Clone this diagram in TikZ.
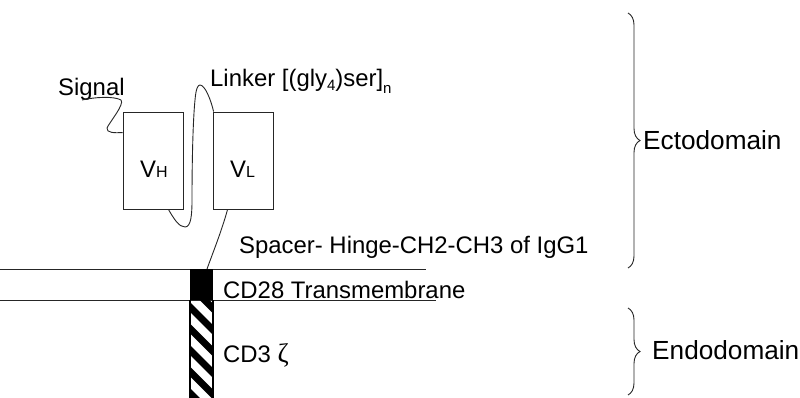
\documentclass[tikz,border=0pt]{standalone}
\usepackage{fontspec}
\setmainfont{Liberation Sans}
\newfontfamily\greekserif{Liberation Serif}
\usetikzlibrary{decorations.pathreplacing,calc}
\newcommand{\mysub}[2]{\raisebox{#1}{\fontsize{15}{17}\selectfont #2}}
\tikzset{
  vbox/.style={draw=black!85, line width=0.9pt, minimum width=60pt, minimum height=97pt, inner sep=0pt},
  lbl/.style={anchor=base west, inner sep=0pt, font=\fontsize{23.9}{28}\selectfont},
  biglbl/.style={anchor=base west, inner sep=0pt, font=\fontsize{26.2}{30}\selectfont},
  wire/.style={line width=0.9pt, black!85},
  bracestyle/.style={line width=0.9pt, black!85, decorate, decoration={brace, amplitude=12pt}}
}
\begin{document}
\begin{tikzpicture}[x=1pt,y=-1pt]
\useasboundingbox (0,0) rectangle (800,397);

% boxes
\node[vbox] (vh) at (153,160.5) {};
\node[vbox] (vl) at (243,160.5) {};
\node[lbl] (vhl) at (140,177) {V\fontsize{16}{18}\selectfont H};
\node[lbl] (vll) at (230,177) {V\fontsize{16}{18}\selectfont L};

% texts
\node[lbl] (signal) at (58,95) {Signal};
\node[lbl] (linker) at (210,86) {Linker [(gly\mysub{-4pt}{4})ser]\mysub{-7pt}{n}};
\node[lbl] (spacer) at (239,253) {Spacer- Hinge-CH2-CH3 of IgG1};
\node[lbl] (cd28) at (223,298) {CD28 Transmembrane};
\node[lbl] (cd3) at (223,362) {CD3 {\greekserif\fontsize{27}{30}\selectfont ζ}};
\node[biglbl] (ecto) at (643,149) {Ectodomain};
\node[biglbl] (endo) at (652,359) {Endodomain};

% membrane
\coordinate (m1a) at (0,269);
\coordinate (m1b) at (426,269);
\coordinate (m2a) at (0,300);
\coordinate (m2b) at (436,300);
\draw[wire] (m1a) -- (m1b);
\draw[wire] (m2a) -- (m2b);

% transmembrane (black) and CD3 zeta (hatched)
\fill[black] (190,269) rectangle (213,300);
\coordinate (tmtop) at (207,269);
\begin{scope}
  \clip (190,300) rectangle (213,398);
  \foreach \k in {-2,...,5} {
    \draw[line width=7pt, black] (170,{307-20+21.5*\k}) -- (235,{307+45+21.5*\k});
  }
\end{scope}
\draw[line width=1.2pt] (190,300) -- (190,398);
\draw[line width=1.2pt] (213,300) -- (213,398);

% signal peptide
\coordinate (sigstart) at (82,100);
\draw[wire] (sigstart) .. controls (95,97) and (114,96) .. (121,100)
  .. controls (125,104) and (109,123) .. (107,128)
  .. controls (106,133) and (115,133) .. ($(vh.north west)+(0,21)$);

% linker
\draw[wire] ($(vh.south east)+(-15,0)$) .. controls (174,219) and (179,227) .. (185,227)
  .. controls (191,227) and (192,215) .. (192,200)
  .. controls (192,160) and (193,120) .. (195,100)
  .. controls (196,88) and (198,85) .. (200,85)
  .. controls (205,85) and (211,100) .. ($(vl.north west)+(1,0)$);

% spacer
\draw[wire] ($(vl.south west)+(15,0)$) .. controls (222,230) and (212,255) .. (tmtop);

% braces
\coordinate (e1) at (628,13);
\coordinate (e2) at (628,268);
\coordinate (n1) at (628,308);
\coordinate (n2) at (628,395);
\draw[bracestyle] (e1) -- (e2);
\draw[bracestyle] (n1) -- (n2);
\end{tikzpicture}
\end{document}
